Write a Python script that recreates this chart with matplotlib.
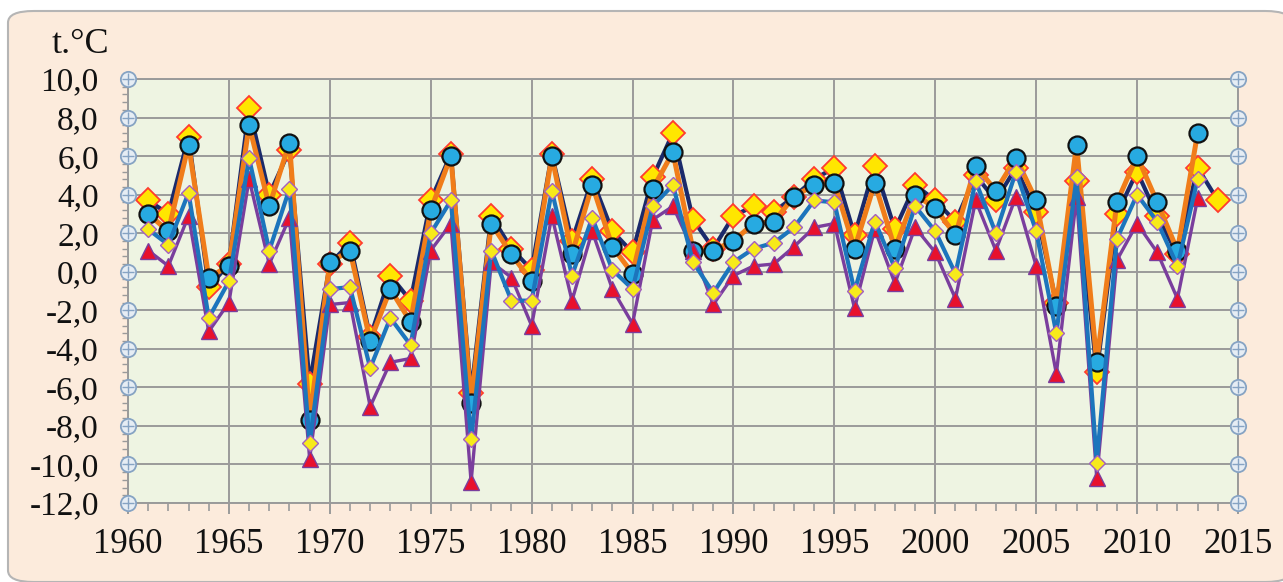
import matplotlib
matplotlib.use("Agg")
import matplotlib.pyplot as plt
from matplotlib.patches import FancyBboxPatch
from matplotlib.ticker import MultipleLocator, FuncFormatter

years = list(range(1961, 2015))

# navy line, yellow diamonds with red edge (1961-2014)
navy = [3.7, 3.0, 7.0, -0.8, 0.4, 8.5, 4.0, 6.3, -5.8, 0.4,
        1.5, -3.4, -0.2, -1.5, 3.7, 6.1, -6.3, 2.9, 1.2, 0.1,
        6.1, 1.6, 4.8, 2.1, 1.0, 4.9, 7.2, 2.7, 1.2, 2.9,
        3.4, 3.1, 3.9, 4.8, 5.4, 1.9, 5.5, 2.2, 4.5, 3.7,
        2.6, 5.0, 3.7, 5.4, 3.1, -1.6, 4.7, -5.2, 3.0, 5.2,
        2.9, 0.9, 5.4, 3.7]

# orange line, cyan circles (1961-2013)
orange = [3.0, 2.1, 6.6, -0.3, 0.3, 7.6, 3.4, 6.7, -7.7, 0.5,
          1.1, -3.6, -0.9, -2.6, 3.2, 6.0, -6.8, 2.5, 0.9, -0.5,
          6.0, 0.9, 4.5, 1.3, -0.1, 4.3, 6.2, 1.1, 1.1, 1.6,
          2.5, 2.6, 3.9, 4.5, 4.6, 1.2, 4.6, 1.2, 4.0, 3.3,
          1.9, 5.5, 4.2, 5.9, 3.7, -1.8, 6.6, -4.7, 3.6, 6.0,
          3.6, 1.1, 7.2]

# blue line, small yellow diamonds (1961-2013)
blue = [2.2, 1.4, 4.1, -2.4, -0.5, 5.9, 1.1, 4.3, -8.9, -0.9,
        -0.8, -5.0, -2.4, -3.8, 2.0, 3.7, -8.7, 1.1, -1.5, -1.5,
        4.2, -0.2, 2.8, 0.1, -0.9, 3.4, 4.5, 0.5, -1.1, 0.5,
        1.2, 1.5, 2.3, 3.7, 3.6, -1.0, 2.6, 0.2, 3.4, 2.1,
        -0.1, 4.7, 2.0, 5.2, 2.1, -3.2, 4.9, -9.9, 1.7, 4.0,
        2.6, 0.3, 4.8]

# purple line, red triangles (1961-2013)
purple = [1.1, 0.3, 2.9, -3.1, -1.6, 4.8, 0.4, 2.8, -9.7, -1.7,
          -1.6, -7.0, -4.7, -4.5, 1.1, 2.5, -10.9, 0.5, -0.3, -2.8,
          2.9, -1.5, 2.1, -0.9, -2.7, 2.7, 3.4, 1.1, -1.7, -0.2,
          0.3, 0.4, 1.3, 2.3, 2.5, -1.9, 2.2, -0.6, 2.3, 1.0,
          -1.4, 3.7, 1.1, 3.9, 0.3, -5.3, 3.9, -10.7, 0.6, 2.5,
          1.0, -1.4, 3.8]

yticks = list(range(-12, 11, 2))

plt.rcParams['font.family'] = ['Liberation Serif', 'DejaVu Serif']

fig = plt.figure(figsize=(12.83, 5.82), dpi=100, facecolor='white')
bg = FancyBboxPatch((8 / 1283, 0), 1.0, 1 - 11 / 582,
                    boxstyle="round,pad=0,rounding_size=0.02",
                    transform=fig.transFigure, facecolor='#FCEBDC',
                    edgecolor='#B5B5B5', linewidth=1.5, zorder=-5)
fig.patches.append(bg)

ax = fig.add_axes([128 / 1283, 1 - 503 / 582, 1110 / 1283, 424 / 582])
ax.set_facecolor('#EEF4E2')

ax.plot(years, navy, color='#1B2A6B', lw=3.0, marker='D', ms=12.5,
        mfc='#FFE600', mec='#FF3B2F', mew=1.3, zorder=3)
ax.plot(years[:len(orange)], orange, color='#F07D1A', lw=3.6, marker='o', ms=13,
        mfc='#27AAE1', mec='#111111', mew=1.6, zorder=4)
ax.plot(years[:len(purple)], purple, color='#7A3E9D', lw=2.4, marker='^', ms=11,
        mfc='#E8112D', mec='#7A3E9D', mew=1.0, zorder=5)
ax.plot(years[:len(blue)], blue, color='#1C75BC', lw=3.0, marker='D', ms=8.5,
        mfc='#F7EA1A', mec='#A35FBF', mew=1.0, zorder=6)

ax.set_xlim(1960, 2015)
ax.set_ylim(-12, 10)
ax.xaxis.set_major_locator(MultipleLocator(5))
ax.xaxis.set_minor_locator(MultipleLocator(1))
ax.set_yticks(yticks)
ax.yaxis.set_minor_locator(MultipleLocator(0.4))
ax.yaxis.set_major_formatter(FuncFormatter(lambda v, p: f"{v:.1f}".replace('.', ',')))

ax.grid(True, which='major', color='#9A9A9A', lw=1.4, zorder=1)
ax.set_axisbelow(True)
for s in ax.spines.values():
    s.set_color('#9A9A9A')
    s.set_linewidth(1.4)

ax.tick_params(axis='y', which='major', length=6, width=1.2, color='#9A9A9A',
               pad=15, labelsize=24, labelcolor='#111111')
ax.tick_params(axis='y', which='minor', length=4, width=1.0, color='#9A9A9A')
ax.tick_params(axis='x', which='major', length=8, width=1.4, color='#9A9A9A',
               pad=10, labelsize=25, labelcolor='#111111')
ax.tick_params(axis='x', which='minor', length=6, width=1.2, color='#9A9A9A')

# small round tick markers on both vertical axes
for xv in (1960, 2015):
    ax.plot([xv] * len(yticks), yticks, ls='none', marker='o', ms=11,
            mfc='#E6EDF4', mec='#86A3C3', mew=1.3, clip_on=False, zorder=7)
    ax.plot([xv] * len(yticks), yticks, ls='none', marker='+', ms=8,
            mec='#86A3C3', mew=1.0, clip_on=False, zorder=8)

fig.text(52 / 1283, 1 - 53 / 582, "t.°C", fontsize=26, color='#111111',
         ha='left', va='baseline')

fig.savefig('out.png', dpi=100, facecolor=fig.get_facecolor())
